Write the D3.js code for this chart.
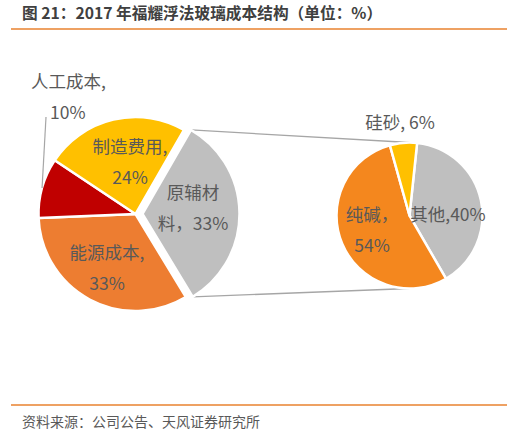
<!DOCTYPE html>
<html>
<head>
<meta charset="utf-8">
<script src="https://cdn.jsdelivr.net/npm/d3@7"></script>
<style>
  body { margin: 0; background: #fff; }
  svg { display: block; font-family: "Noto Sans CJK SC", "Noto Sans", sans-serif; }
</style>
</head>
<body>
<div id="chart"></div>
<script>
// Main pie data
const mainLabels = ["原辅材料", "能源成本", "人工成本", "制造费用"];
const mainValues = [33, 33, 10, 24];
// Secondary pie (breakdown of 原辅材料)
const subLabels = ["其他", "纯碱", "硅砂"];
const subValues = [40, 54, 6];

const mainColors = ["#BFBFBF", "#ED7D31", "#C00000", "#FFC000"];
const subColors = ["#BFBFBF", "#F4871E", "#FFC000"];

const width = 517, height = 437;
const deg = Math.PI / 180;

const svg = d3.select("#chart").append("svg")
    .attr("width", width)
    .attr("height", height);

// Title + rules
svg.append("text")
    .attr("x", 22).attr("y", 14)
    .attr("dy", "0.35em")
    .style("font-size", "15.7px")
    .style("font-weight", "bold")
    .attr("fill", "#404040")
    .text("图 21：2017 年福耀浮法玻璃成本结构（单位：%）");

svg.append("line").attr("x1", 11).attr("x2", 507).attr("y1", 29).attr("y2", 29)
    .attr("stroke", "#E8822F").attr("stroke-width", 1.5);
svg.append("line").attr("x1", 11).attr("x2", 507).attr("y1", 405).attr("y2", 405)
    .attr("stroke", "#E8822F").attr("stroke-width", 1.5);

svg.append("text")
    .attr("x", 22).attr("y", 422)
    .attr("dy", "0.35em")
    .style("font-size", "14px")
    .attr("fill", "#595959")
    .text("资料来源：公司公告、天风证券研究所");

// Layout of the two pies
const main = { cx: 135.5, cy: 214, r: 97, start: 30, explode: 7 };
const sub = { cx: 409.5, cy: 215.5, r: 73, start: 6 };

const mainArcs = d3.pie().sort(null)
    .startAngle(main.start * deg).endAngle((main.start + 360) * deg)(mainValues);
const subArcs = d3.pie().sort(null)
    .startAngle(sub.start * deg).endAngle((sub.start + 360) * deg)(subValues);

const mainArc = d3.arc().innerRadius(0).outerRadius(main.r);
const subArc = d3.arc().innerRadius(0).outerRadius(sub.r);

// offset of the split slice (原辅材料)
const split = mainArcs[0];
const mid = (split.startAngle + split.endAngle) / 2;
const ex = main.explode * Math.sin(mid), ey = -main.explode * Math.cos(mid);

// Connector lines from the split slice to the secondary pie
const pt = (a, r) => [Math.sin(a) * r, -Math.cos(a) * r];
const p1 = pt(split.startAngle, main.r), p2 = pt(split.endAngle, main.r);
const lines = [
    [main.cx + ex + p1[0], main.cy + ey + p1[1], sub.cx, sub.cy - sub.r],
    [main.cx + ex + p2[0], main.cy + ey + p2[1], sub.cx, sub.cy + sub.r]
];
svg.selectAll(".conn").data(lines).enter().append("line")
    .attr("class", "conn")
    .attr("x1", d => d[0]).attr("y1", d => d[1])
    .attr("x2", d => d[2]).attr("y2", d => d[3])
    .attr("stroke", "#A6A6A6").attr("stroke-width", 1.3);

const gMain = svg.append("g").attr("transform", `translate(${main.cx},${main.cy})`);
gMain.selectAll("path").data(mainArcs).enter().append("path")
    .attr("d", mainArc)
    .attr("transform", (d, i) => i === 0 ? `translate(${ex},${ey})` : null)
    .attr("fill", (d, i) => mainColors[i])
    .attr("stroke", "#fff").attr("stroke-width", 2.5).attr("stroke-linejoin", "round");

const gSub = svg.append("g").attr("transform", `translate(${sub.cx},${sub.cy})`);
gSub.selectAll("path").data(subArcs).enter().append("path")
    .attr("d", subArc)
    .attr("fill", (d, i) => subColors[i])
    .attr("stroke", "#fff").attr("stroke-width", 2.5).attr("stroke-linejoin", "round");

// Leader line for 人工成本 (to the outer middle of the red slice)
const red = mainArcs[2];
const rp = pt((red.startAngle + red.endAngle) / 2, main.r);
svg.append("line")
    .attr("x1", 46).attr("y1", 117)
    .attr("x2", main.cx + rp[0]).attr("y2", main.cy + rp[1])
    .attr("stroke", "#A6A6A6").attr("stroke-width", 1.2);

// Data labels: [lines, x, y]
const labelLayout = [
    [[mainLabels[0].slice(0, 3), mainLabels[0].slice(3) + "，" + mainValues[0] + "%"], 193, 193],
    [[mainLabels[1] + ",", mainValues[1] + "%"], 107, 253],
    [[mainLabels[2] + ",", mainValues[2] + "%"], 67, 82, ["start", 31, 50]],
    [[mainLabels[3] + ",", mainValues[3] + "%"], 130, 147],
    [[subLabels[0] + "," + subValues[0] + "%"], 448, 215],
    [[subLabels[1] + "，", subValues[1] + "%"], 372, 215],
    [[subLabels[2] + ", " + subValues[2] + "%"], 400, 123]
];

labelLayout.forEach(([lines, x, y, left]) => {
    lines.forEach((t, i) => {
        svg.append("text")
            .attr("x", left ? left[1 + i] : x)
            .attr("y", y + i * 30.5)
            .attr("dy", "0.35em")
            .attr("text-anchor", left ? "start" : "middle")
            .style("font-size", "17.5px")
            .attr("fill", "#595959")
            .text(t);
    });
});
</script>
</body>
</html>
